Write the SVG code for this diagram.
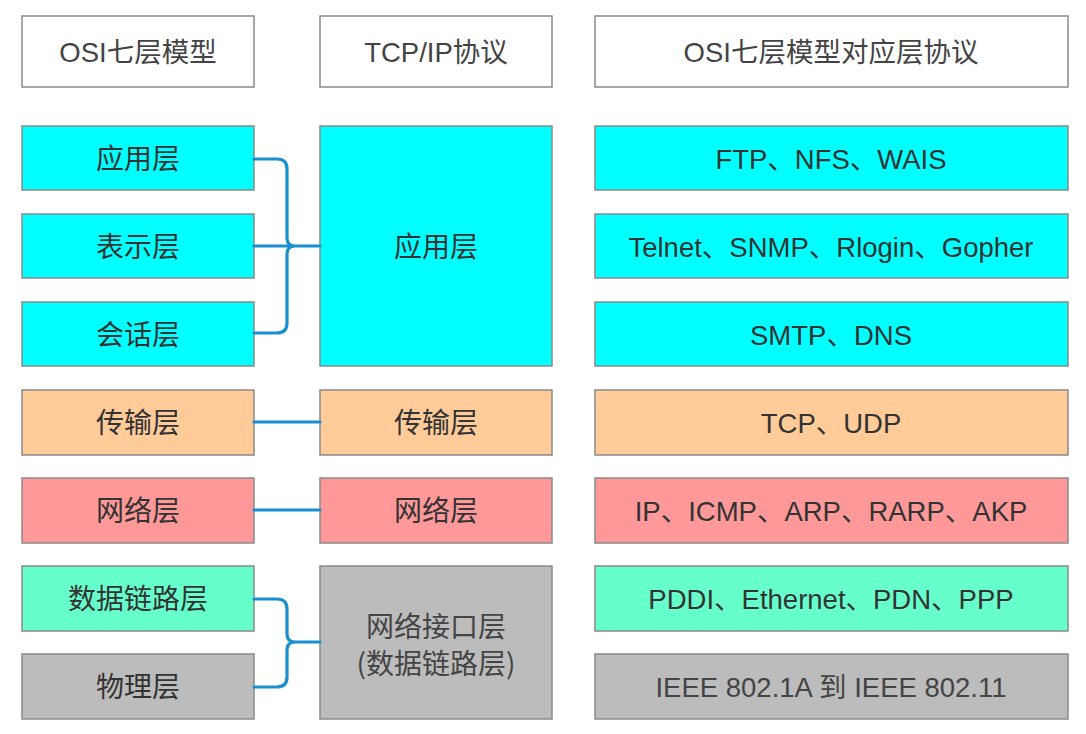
<svg xmlns="http://www.w3.org/2000/svg" width="1086" height="734" viewBox="0 0 1086 734">
<style>
.box{stroke:#8a8a8a;stroke-width:1.5}
.hdr{fill:#ffffff}
.cy{fill:#00ffff}
.or{fill:#ffcc99}
.rd{fill:#ff9999}
.gr{fill:#66ffcc}
.gy{fill:#bcbcbc}
text{font-family:"Liberation Sans","Noto Sans CJK SC",sans-serif;font-size:27.5px;fill:#333333;text-anchor:middle}
.cjk{font-family:"Noto Sans CJK SC",sans-serif}
.lbl{font-size:28px}
.h{fill:#444444}
.conn{fill:none;stroke:#1a8fcf;stroke-width:3.2;stroke-linecap:round;stroke-linejoin:round}
</style>
<rect width="1086" height="734" fill="#ffffff"/>
<g id="hdr-osi"><rect class="box hdr" x="22" y="16" width="232" height="71"/><text class="h" x="138" y="62">OSI<tspan class="cjk">七层模型</tspan></text></g>
<g id="hdr-tcpip"><rect class="box hdr" x="320" y="16" width="232" height="71"/><text class="h" x="436" y="62">TCP/IP<tspan class="cjk">协议</tspan></text></g>
<g id="hdr-proto"><rect class="box hdr" x="595" y="16" width="473" height="71"/><text class="h" x="831" y="62">OSI<tspan class="cjk">七层模型对应层协议</tspan></text></g>

<g id="osi-app"><rect class="box cy" x="22" y="126" width="232" height="64"/><text class="cjk lbl" x="138" y="169">应用层</text></g>
<g id="osi-pres"><rect class="box cy" x="22" y="214" width="232" height="64"/><text class="cjk lbl" x="138" y="257">表示层</text></g>
<g id="osi-sess"><rect class="box cy" x="22" y="302" width="232" height="64"/><text class="cjk lbl" x="138" y="345">会话层</text></g>
<g id="osi-trans"><rect class="box or" x="22" y="390" width="232" height="65"/><text class="cjk lbl" x="138" y="433">传输层</text></g>
<g id="osi-net"><rect class="box rd" x="22" y="478" width="232" height="65"/><text class="cjk lbl" x="138" y="521">网络层</text></g>
<g id="osi-dl"><rect class="box gr" x="22" y="566" width="232" height="65"/><text class="cjk lbl" x="138" y="609">数据链路层</text></g>
<g id="osi-phy"><rect class="box gy" x="22" y="654" width="232" height="65"/><text class="cjk lbl" x="138" y="697">物理层</text></g>

<g id="tcp-app"><rect class="box cy" x="320" y="126" width="232" height="240"/><text class="cjk lbl" x="436" y="257">应用层</text></g>
<g id="tcp-trans"><rect class="box or" x="320" y="390" width="232" height="65"/><text class="cjk lbl" x="436" y="433">传输层</text></g>
<g id="tcp-net"><rect class="box rd" x="320" y="478" width="232" height="65"/><text class="cjk lbl" x="436" y="521">网络层</text></g>
<g id="tcp-if"><rect class="box gy" x="320" y="566" width="232" height="153"/><text class="cjk lbl h" x="436" y="637">网络接口层</text><text class="cjk lbl h" x="436" y="674">(数据链路层)</text></g>

<g id="p-app1"><rect class="box cy" x="595" y="126" width="473" height="64"/><text x="831" y="169">FTP<tspan class="cjk">、</tspan>NFS<tspan class="cjk">、</tspan>WAIS</text></g>
<g id="p-app2"><rect class="box cy" x="595" y="214" width="473" height="64"/><text x="831" y="257">Telnet<tspan class="cjk">、</tspan>SNMP<tspan class="cjk">、</tspan>Rlogin<tspan class="cjk">、</tspan>Gopher</text></g>
<g id="p-app3"><rect class="box cy" x="595" y="302" width="473" height="64"/><text x="831" y="345">SMTP<tspan class="cjk">、</tspan>DNS</text></g>
<g id="p-trans"><rect class="box or" x="595" y="390" width="473" height="65"/><text x="831" y="433">TCP<tspan class="cjk">、</tspan>UDP</text></g>
<g id="p-net"><rect class="box rd" x="595" y="478" width="473" height="65"/><text x="831" y="521">IP<tspan class="cjk">、</tspan>ICMP<tspan class="cjk">、</tspan>ARP<tspan class="cjk">、</tspan>RARP<tspan class="cjk">、</tspan>AKP</text></g>
<g id="p-dl"><rect class="box gr" x="595" y="566" width="473" height="65"/><text x="831" y="609">PDDI<tspan class="cjk">、</tspan>Ethernet<tspan class="cjk">、</tspan>PDN<tspan class="cjk">、</tspan>PPP</text></g>
<g id="p-phy"><rect class="box gy" x="595" y="654" width="473" height="65"/><text class="h" x="831" y="697">IEEE 802.1A <tspan class="cjk">到</tspan> IEEE 802.11</text></g>

<g id="connectors">
<path class="conn" d="M254,159 H277 Q287,159 287,169 V238 Q287,246 295,246 M295,246 Q287,246 287,254 V323 Q287,333 277,333 H254 M254,246 H320"/>
<path class="conn" d="M254,422 H320"/>
<path class="conn" d="M254,510 H320"/>
<path class="conn" d="M254,599 H277 Q287,599 287,609 V634 Q287,642 295,642 H320 M295,642 Q287,642 287,650 V677 Q287,687 277,687 H254"/>
</g>
</svg>
